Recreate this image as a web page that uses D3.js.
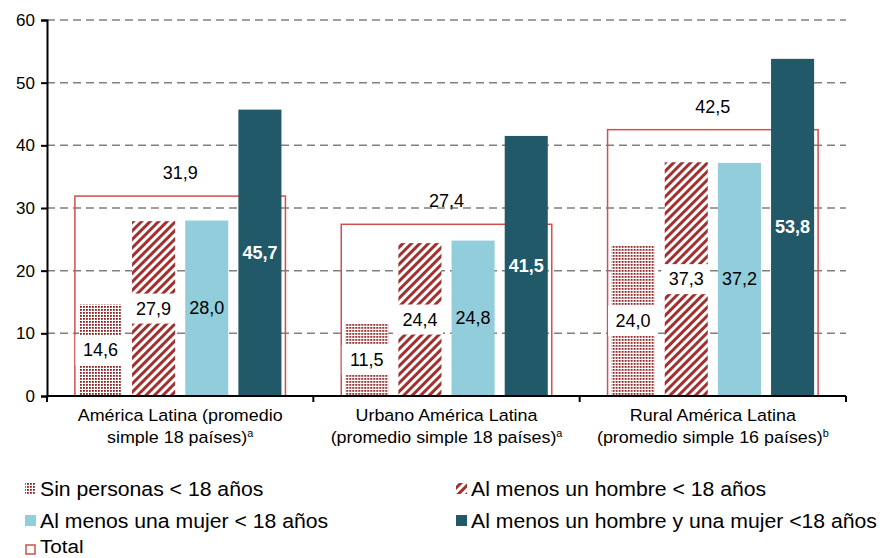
<!DOCTYPE html>
<html>
<head>
<meta charset="utf-8">
<script src="https://cdn.jsdelivr.net/npm/d3@7"></script>
<style>
  body { margin: 0; background: #fff; }
  svg { font-family: "Liberation Sans", Arial, sans-serif; }
</style>
</head>
<body>
<svg id="chart" width="880" height="558"></svg>
<script>
// categories (two lines each + superscript note)
const categories = ["AL", "Urbano", "Rural"];
const catLine1 = ["América Latina (promedio", "Urbano América Latina", "Rural América Latina"];
const catLine2 = ["simple 18 países)", "(promedio simple 18 países)", "(promedio simple 16 países)"];
const catNote = ["a", "a", "b"];

const seriesNames = ["Sin personas < 18 años", "Al menos un hombre < 18 años",
  "Al menos una mujer < 18 años", "Al menos un hombre y una mujer <18 años"];
const sinPersonas = [14.6, 11.5, 24.0];
const alMenosHombre = [27.9, 24.4, 37.3];
const alMenosMujer = [28.0, 24.8, 37.2];
const hombreYMujer = [45.7, 41.5, 53.8];
const total = [31.9, 27.4, 42.5];
const yTicks = [0, 10, 20, 30, 40, 50, 60];

const seriesValues = [sinPersonas, alMenosHombre, alMenosMujer, hombreYMujer];
const fills = ["url(#dots)", "url(#hatch)", "#92cddc", "#215968"];

const svg = d3.select("#chart");

// patterns
const defs = svg.append("defs");
const dots = defs.append("pattern").attr("id", "dots")
  .attr("patternUnits", "userSpaceOnUse").attr("width", 3).attr("height", 3);
dots.append("rect").attr("width", 3).attr("height", 3).attr("fill", "#fff");
dots.append("rect").attr("width", 1.8).attr("height", 1.8).attr("fill", "#8b1c1c");

const hatch = defs.append("pattern").attr("id", "hatch")
  .attr("patternUnits", "userSpaceOnUse").attr("width", 6).attr("height", 6)
  .attr("patternTransform", "rotate(45)");
hatch.append("rect").attr("width", 6).attr("height", 6).attr("fill", "#fff");
hatch.append("rect").attr("width", 3).attr("height", 6).attr("fill", "#a32f2f");

const y = d3.scaleLinear().domain([0, 60]).range([396, 20]);
const x0 = d3.scaleBand().domain(categories).range([47, 846]);
const x1 = d3.scaleBand().domain(d3.range(4)).range([0, x0.bandwidth()])
  .paddingInner(0.19).paddingOuter(0.6);

// gridlines
svg.append("g")
  .selectAll("line")
  .data(yTicks.filter(d => d > 0))
  .enter()
  .append("line")
  .attr("x1", 47).attr("x2", 846)
  .attr("y1", d => y(d)).attr("y2", d => y(d))
  .attr("stroke", "#808080")
  .attr("stroke-width", 1.5)
  .attr("stroke-dasharray", "8,5");

// total boxes
svg.append("g")
  .selectAll("rect")
  .data(total)
  .enter()
  .append("rect")
  .attr("x", (d, i) => x0(categories[i]) + x1(0) - 4)
  .attr("width", x1(3) + x1.bandwidth() - x1(0) + 8)
  .attr("y", d => y(d))
  .attr("height", d => y(0) - y(d))
  .attr("fill", "none")
  .attr("stroke", "#d0504d")
  .attr("stroke-width", 1.5);

svg.append("g")
  .selectAll("text")
  .data(total)
  .enter()
  .append("text")
  .attr("x", (d, i) => x0(categories[i]) + x0.bandwidth() / 2)
  .attr("y", d => y(d) - 23)
  .attr("text-anchor", "middle")
  .attr("dominant-baseline", "central")
  .attr("font-size", 18)
  .text(d => d3.format(".1f")(d).replace(".", ","));

// bars
const groups = svg.append("g")
  .selectAll("g")
  .data(categories)
  .enter()
  .append("g")
  .attr("transform", d => "translate(" + x0(d) + ",0)");

groups.selectAll("rect")
  .data((c, i) => seriesValues.map((s, k) => ({ k: k, v: s[i] })))
  .enter()
  .append("rect")
  .attr("x", d => x1(d.k))
  .attr("width", x1.bandwidth())
  .attr("y", d => y(d.v))
  .attr("height", d => y(0) - y(d.v))
  .attr("fill", d => fills[d.k]);

// value labels
const labels = groups.selectAll("g.lab")
  .data((c, i) => seriesValues.map((s, k) => ({ k: k, v: s[i] })))
  .enter()
  .append("g")
  .attr("class", "lab")
  .attr("transform", d => "translate(" + (x1(d.k) + x1.bandwidth() / 2) + "," + y(d.v / 2) + ")");

labels.filter(d => d.k < 2)
  .append("rect")
  .attr("x", -25).attr("y", -15)
  .attr("width", 48).attr("height", 30)
  .attr("fill", "#fff");

labels.append("text")
  .attr("text-anchor", "middle")
  .attr("dominant-baseline", "central")
  .attr("font-size", 18)
  .attr("font-weight", d => d.k === 3 ? "bold" : "normal")
  .attr("fill", d => d.k === 3 ? "#fff" : "#000")
  .text(d => d3.format(".1f")(d.v).replace(".", ","));

// axes
svg.append("g")
  .attr("transform", "translate(47,0)")
  .call(d3.axisLeft(y).tickValues(yTicks).tickSize(6).tickPadding(6))
  .call(g => g.select(".domain").attr("stroke-width", 2))
  .call(g => g.selectAll(".tick line").attr("stroke-width", 2))
  .call(g => g.selectAll("text").attr("font-size", 17).attr("font-family", "Liberation Sans, Arial, sans-serif").attr("fill", "#000"));

svg.append("line")
  .attr("x1", 46).attr("x2", 846)
  .attr("y1", y(0)).attr("y2", y(0))
  .attr("stroke", "#000").attr("stroke-width", 2);

svg.append("g")
  .selectAll("line")
  .data([47, 846].concat(categories.slice(1).map(c => x0(c))))
  .enter()
  .append("line")
  .attr("x1", d => d).attr("x2", d => d)
  .attr("y1", y(0)).attr("y2", y(0) + 6)
  .attr("stroke", "#000").attr("stroke-width", 2);

// category labels (source text is slightly stretched horizontally)
const cat = svg.append("g")
  .selectAll("g")
  .data(categories)
  .enter()
  .append("g")
  .attr("transform", d => "translate(" + (x0(d) + x0.bandwidth() / 2) + ",0) scale(1.085,1)");

cat.append("text")
  .attr("y", 421)
  .attr("text-anchor", "middle")
  .attr("font-size", 16.5)
  .text((d, i) => catLine1[i]);

const l2 = cat.append("text")
  .attr("y", 443)
  .attr("text-anchor", "middle")
  .attr("font-size", 16.5);
l2.append("tspan").text((d, i) => catLine2[i]);
l2.append("tspan").attr("font-size", 10).attr("dy", -6).text((d, i) => catNote[i]);

// legend
const legendPos = [[25, 489], [456, 489], [25, 521], [456, 521]];
const legend = svg.append("g");
seriesNames.forEach((name, k) => {
  const p = legendPos[k];
  legend.append("rect")
    .attr("x", p[0]).attr("y", p[1] - 6)
    .attr("width", 11).attr("height", 11)
    .attr("fill", fills[k]);
  legend.append("text")
    .attr("transform", "translate(" + (p[0] + 15) + "," + p[1] + ") scale(1.088,1)")
    .attr("dominant-baseline", "central")
    .attr("font-size", 19.5)
    .text(name);
});
legend.append("rect")
  .attr("x", 26).attr("y", 545)
  .attr("width", 9).attr("height", 9)
  .attr("fill", "#fff").attr("stroke", "#d0504d").attr("stroke-width", 1.5);
legend.append("text")
  .attr("transform", "translate(40,546) scale(1.088,1)")
  .attr("dominant-baseline", "central")
  .attr("font-size", 19)
  .text("Total");
</script>
</body>
</html>
